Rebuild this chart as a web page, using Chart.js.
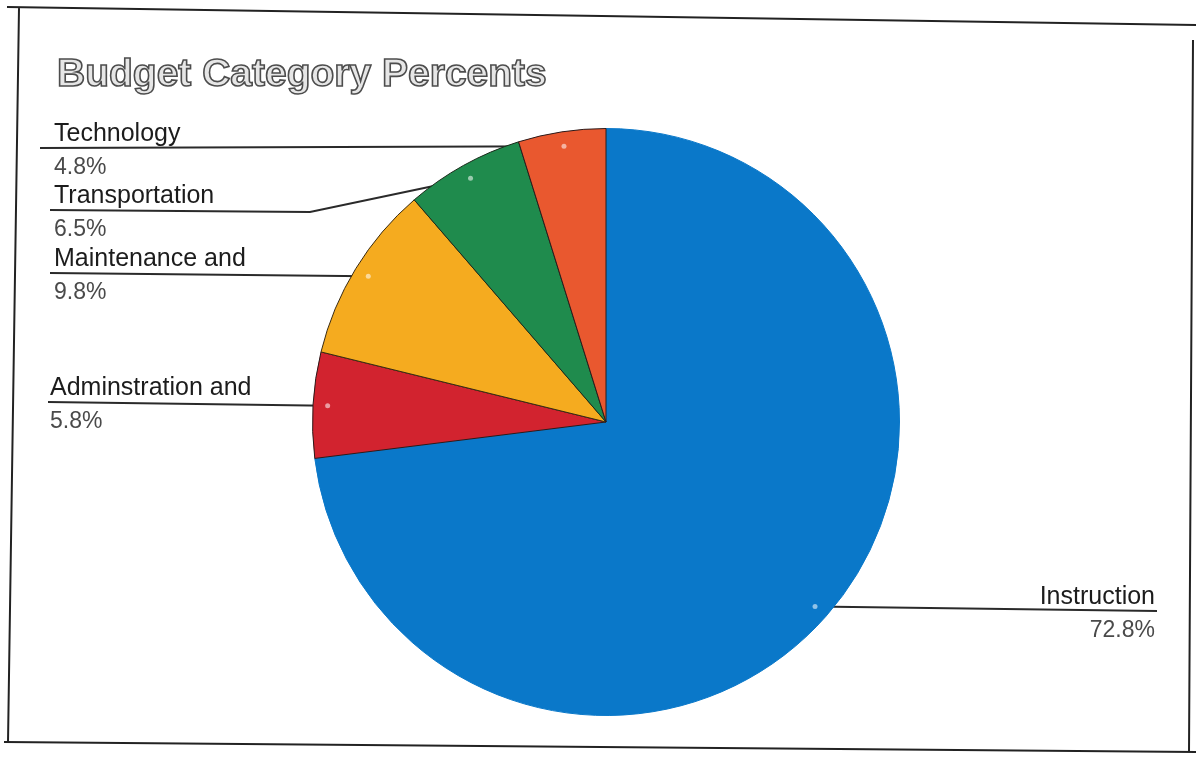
<!DOCTYPE html>
<html>
<head>
<meta charset="utf-8">
<title>Budget Category Percents</title>
<script src="https://cdn.jsdelivr.net/npm/chart.js@4.4.1/dist/chart.umd.min.js"></script>
<style>
  html, body { margin: 0; padding: 0; background: #fff; }
  #budgetChart { display: block; }
</style>
</head>
<body>
<canvas id="budgetChart" width="1196" height="757"></canvas>
<script>
// budget shares, clockwise from 12 o'clock
var categories = ['Instruction', 'Adminstration and', 'Maintenance and', 'Transportation', 'Technology'];
var percents = [72.8, 5.8, 9.8, 6.5, 4.8];
var sliceColors = ['#0a78c9', '#d2232f', '#f5ab1f', '#1f8b4d', '#e9582f'];
var chartTitle = 'Budget Category Percents';

// where each callout label sits and where its leader line starts
var callouts = [
    { align: 'right', x: 1155, y: 611, lineX: 1157 },
    { align: 'left', x: 50, y: 402, lineX: 48 },
    { align: 'left', x: 54, y: 273, lineX: 50 },
    { align: 'left', x: 54, y: 210, lineX: 50, bend: [310, 212] },
    { align: 'left', x: 54, y: 148, lineX: 40 }
];

function anchorOf(arc) {
    var p = arc.getProps(['x', 'y', 'startAngle', 'endAngle', 'outerRadius'], true);
    var mid = (p.startAngle + p.endAngle) / 2;
    var r = p.outerRadius * 0.95;
    return { x: p.x + Math.cos(mid) * r, y: p.y + Math.sin(mid) * r };
}

// scanned-page frame around the chart
var framePlugin = {
    id: 'frame',
    beforeDraw: function (chart) {
        var ctx = chart.ctx;
        ctx.save();
        ctx.strokeStyle = '#222';
        ctx.lineWidth = 2;
        ctx.beginPath();
        ctx.moveTo(7, 7);
        ctx.lineTo(1196, 25);
        ctx.moveTo(19, 8);
        ctx.lineTo(8, 742);
        ctx.moveTo(4, 742);
        ctx.lineTo(1196, 752);
        ctx.moveTo(1193, 40);
        ctx.lineTo(1189, 752);
        ctx.stroke();
        ctx.restore();
    }
};

// leader lines go under the slices, labels and dots on top
var calloutPlugin = {
    id: 'callouts',
    beforeDatasetsDraw: function (chart) {
        var ctx = chart.ctx;
        var arcs = chart.getDatasetMeta(0).data;
        ctx.save();
        ctx.strokeStyle = '#2a2a2a';
        ctx.lineWidth = 2;
        arcs.forEach(function (arc, i) {
            var c = callouts[i];
            var a = anchorOf(arc);
            ctx.beginPath();
            ctx.moveTo(c.lineX, c.y);
            if (c.bend) ctx.lineTo(c.bend[0], c.bend[1]);
            ctx.lineTo(a.x, a.y);
            ctx.stroke();
        });
        ctx.restore();
    },
    afterDatasetsDraw: function (chart) {
        var ctx = chart.ctx;
        var arcs = chart.getDatasetMeta(0).data;
        ctx.save();
        arcs.forEach(function (arc, i) {
            var c = callouts[i];
            var a = anchorOf(arc);
            ctx.fillStyle = 'rgba(255,255,255,0.55)';
            ctx.beginPath();
            ctx.arc(a.x, a.y, 2.5, 0, Math.PI * 2);
            ctx.fill();

            ctx.textAlign = c.align;
            ctx.textBaseline = 'alphabetic';
            ctx.font = '25px "Liberation Sans", Arial, sans-serif';
            ctx.fillStyle = '#1c1c1c';
            ctx.fillText(categories[i], c.x, c.y - 7);
            ctx.font = '23px "Liberation Sans", Arial, sans-serif';
            ctx.fillStyle = '#4a4a4a';
            ctx.fillText(percents[i].toFixed(1) + '%', c.x, c.y + 26);
        });
        ctx.restore();
    },
    afterDraw: function (chart) {
        var ctx = chart.ctx;
        ctx.save();
        ctx.font = 'bold 39px "Liberation Sans", Arial, sans-serif';
        ctx.textAlign = 'left';
        ctx.textBaseline = 'alphabetic';
        ctx.fillStyle = '#e6e6e6';
        ctx.fillText(chartTitle, 57, 86);
        ctx.strokeStyle = '#4d4d4d';
        ctx.lineWidth = 1.6;
        ctx.strokeText(chartTitle, 57, 86);
        ctx.restore();
    }
};

var ctx = document.getElementById('budgetChart').getContext('2d');
new Chart(ctx, {
    type: 'pie',
    data: {
        labels: categories,
        datasets: [{
            data: percents,
            backgroundColor: sliceColors,
            borderColor: ['#0a78c9', '#2a1a1a', '#3a2a10', '#1a2a1a', '#2a1a1a'],
            borderWidth: 1
        }]
    },
    options: {
        responsive: false,
        animation: false,
        layout: { padding: { top: 128, bottom: 41, left: 116, right: 100 } },
        plugins: {
            legend: { display: false },
            tooltip: { enabled: false },
            title: { display: false }
        }
    },
    plugins: [framePlugin, calloutPlugin]
});
</script>
</body>
</html>
